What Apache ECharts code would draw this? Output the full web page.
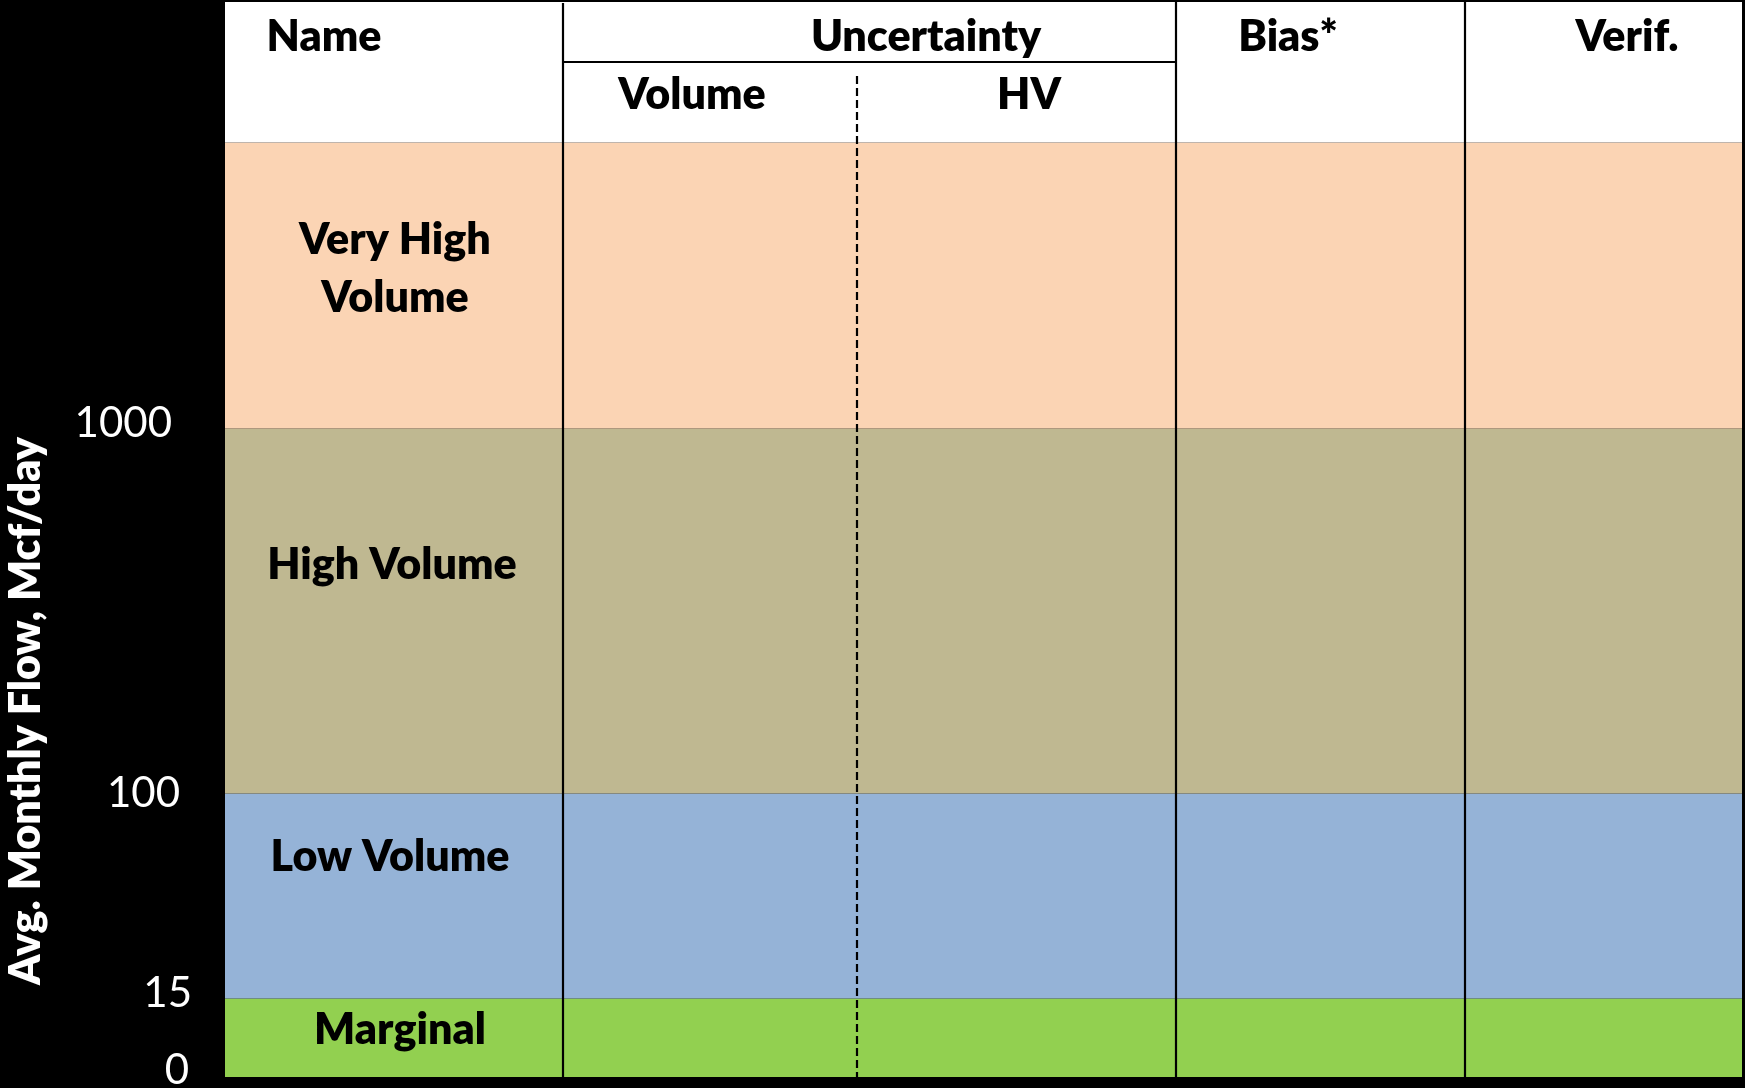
<!DOCTYPE html>
<html>
<head>
<meta charset="utf-8">
<script src="https://cdn.jsdelivr.net/npm/echarts@6/dist/echarts.min.js"></script>
<style>
html,body{margin:0;padding:0;background:#000;}
#chart{width:1745px;height:1088px;}
</style>
</head>
<body>
<div id="chart"></div>
<script>
// ---- data (axis units) ----
const bandNames = ['Marginal', 'Low Volume', 'High Volume', 'Very High\nVolume'];
const bandLower = [0, 78.5, 283.5, 648.5];
const bandUpper = [78.5, 283.5, 648.5, 934.5];
const bandLabelX = [175, 165, 167, 170];
const bandLabelY = [47, 220, 512, 808];
const tickValues = [0, 78.5, 283.5, 648.5];
const tickLabels = ['0', '15', '100', '1000'];
const headerLabels = ['Name', 'Uncertainty', 'Volume', 'HV', 'Bias*', 'Verif.'];
const headerX = [99, 701, 467, 804, 1063, 1402];
const headerY = [1040, 1040, 982, 982, 1040, 1040];
const colEdges = [0, 338, 632, 951, 1240, 1517];
const yAxisTitle = 'Avg. Monthly Flow, Mcf/day';

// ---- styles ----
const bandColors = ['#92D050', '#95B3D7', '#BFB891', '#FBD4B4'];
const FONT = 'Lato, "Open Sans", sans-serif';
const BOLD = '800 43px ' + FONT;
const X_MAX = 1517, Y_MAX = 1075, HEADER_BOTTOM = 934.5;

const chart = echarts.init(document.getElementById('chart'));

const tickPad = [[0, 3, 14, 0], [0, 0, 10, 0], [0, 12, 0, 0], [0, 20, 10, 0]];
const rich = {};
tickLabels.forEach((t, i) => {
  rich['t' + i] = { color: '#fff', fontSize: 42, fontFamily: FONT, padding: tickPad[i] };
});

chart.setOption({
  backgroundColor: '#000',
  animation: false,
  grid: { left: 225, right: 3, top: 2, bottom: 11, containLabel: false, outerBoundsMode: 'none' },
  xAxis: { type: 'value', min: 0, max: X_MAX, show: false },
  yAxis: {
    type: 'value', min: 0, max: Y_MAX,
    axisLine: { show: false }, axisTick: { show: false }, splitLine: { show: false },
    axisLabel: {
      customValues: tickValues,
      margin: 33,
      formatter: function (v) {
        const i = tickValues.indexOf(v);
        return i >= 0 ? '{t' + i + '|' + tickLabels[i] + '}' : '';
      },
      rich: rich
    }
  },
  graphic: [{
    type: 'text',
    x: 26, y: 711,
    rotation: Math.PI / 2,
    style: {
      text: yAxisTitle, fill: '#fff', font: BOLD,
      textAlign: 'center', textVerticalAlign: 'middle'
    }
  }],
  series: [
    {
      type: 'custom',
      name: 'bands',
      silent: true,
      data: bandLower.map((l, i) => [l, bandUpper[i]]),
      renderItem: function (params, api) {
        const i = params.dataIndex;
        const p0 = api.coord([0, api.value(1)]);
        const p1 = api.coord([X_MAX, api.value(0)]);
        const lp = api.coord([bandLabelX[i], bandLabelY[i]]);
        return {
          type: 'group',
          children: [
            { type: 'rect', shape: { x: p0[0], y: p0[1], width: p1[0] - p0[0], height: p1[1] - p0[1] },
              style: { fill: bandColors[i] } },
            { type: 'text', x: lp[0], y: lp[1],
              style: { text: bandNames[i], fill: '#000', font: BOLD,
                       textAlign: 'center', textVerticalAlign: 'middle', lineHeight: 58 } }
          ]
        };
      }
    },
    {
      type: 'custom',
      name: 'header',
      silent: true,
      data: headerLabels.map((t, i) => [headerX[i], headerY[i]]),
      renderItem: function (params, api) {
        const i = params.dataIndex;
        const p = api.coord([api.value(0), api.value(1)]);
        const children = [];
        if (i === 0) {
          const a = api.coord([0, Y_MAX]);
          const b = api.coord([X_MAX, HEADER_BOTTOM]);
          children.push({ type: 'rect', shape: { x: a[0], y: a[1], width: b[0] - a[0], height: b[1] - a[1] },
                          style: { fill: '#fff' } });
        }
        children.push({ type: 'text', x: p[0], y: p[1],
          style: { text: headerLabels[i], fill: '#000', font: BOLD,
                   textAlign: 'center', textVerticalAlign: 'middle' } });
        return { type: 'group', children: children };
      },
      z: 3
    },
    {
      type: 'custom',
      name: 'grid-lines',
      silent: true,
      // [x, yTop, yBottom, dashed]
      data: [
        [colEdges[1], Y_MAX - 1, 0, 0],
        [colEdges[2], 1001, 0, 1],
        [colEdges[3], Y_MAX, 0, 0],
        [colEdges[4], Y_MAX, 0, 0]
      ],
      renderItem: function (params, api) {
        const x = api.value(0);
        const top = api.coord([x, api.value(1)]);
        const bot = api.coord([x, api.value(2)]);
        const dashed = api.value(3) === 1;
        const children = [{
          type: 'line',
          shape: { x1: top[0], y1: top[1], x2: bot[0], y2: bot[1] },
          style: { stroke: '#000', lineWidth: dashed ? 2.2 : 2.2, lineDash: dashed ? [8, 4] : null }
        }];
        if (params.dataIndex === 0) {
          const a = api.coord([colEdges[1], 1015]);
          const b = api.coord([colEdges[3], 1015]);
          children.push({ type: 'line', shape: { x1: a[0], y1: a[1], x2: b[0], y2: b[1] },
                          style: { stroke: '#000', lineWidth: 2.2 } });
        }
        return { type: 'group', children: children };
      },
      z: 4
    }
  ]
});
</script>
</body>
</html>
